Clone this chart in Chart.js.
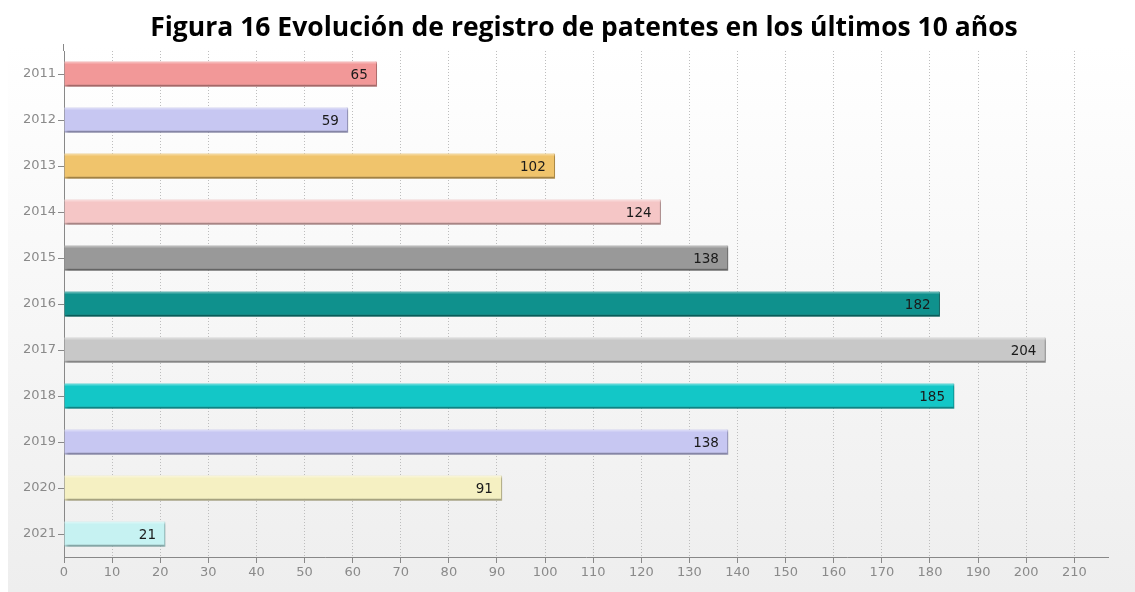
<!DOCTYPE html>
<html>
<head>
<meta charset="utf-8">
<script src="https://cdn.jsdelivr.net/npm/chart.js@4/dist/chart.umd.min.js"></script>
<style>
  html, body { margin: 0; padding: 0; background: #fff; }
  #wrap { width: 1135px; height: 592px; position: relative; }
</style>
</head>
<body>
<div id="wrap"><canvas id="barChart"></canvas></div>
<script>
const titleText = "Figura 16 Evolución de registro de patentes en los últimos 10 años";
const years = ["2011", "2012", "2013", "2014", "2015", "2016", "2017", "2018", "2019", "2020", "2021"];
const patentes = [65, 59, 102, 124, 138, 182, 204, 185, 138, 91, 21];
const barColors = ["#f29898", "#c7c7f2", "#f0c46c", "#f5c6c6", "#999999", "#0f918d",
                   "#c8c8c8", "#13c7c7", "#c7c7f2", "#f5f0c2", "#c6f2f2"];
const edgeColors = ["#dc8a8a", "#b0b0dc", "#d8ac58", "#e0b0b0", "#858585", "#0a7c78",
                    "#b2b2b2", "#0fb0b0", "#b0b0dc", "#dcd6a8", "#aedcdc"];
const xTicks = [0, 10, 20, 30, 40, 50, 60, 70, 80, 90, 100, 110, 120, 130, 140, 150, 160, 170, 180, 190, 200, 210];

// background panel + title
const backdrop = {
  id: "backdrop",
  beforeDraw(chart) {
    const c = chart.ctx;
    const g = c.createLinearGradient(0, 45, 0, chart.height);
    g.addColorStop(0, "#ffffff");
    g.addColorStop(1, "#eeeeee");
    c.save();
    c.fillStyle = g;
    c.fillRect(8, 45, chart.width - 8, chart.height - 45);
    c.restore();
  },
  afterDraw(chart) {
    const c = chart.ctx, a = chart.chartArea;
    c.save();
    c.font = "bold 26.5px 'Open Sans'";
    c.fillStyle = "#000";
    c.textAlign = "center";
    c.textBaseline = "middle";
    c.fillText(titleText, (a.left + a.right) / 2 - 2, 28);
    // y axis line runs a bit above the plot
    c.strokeStyle = "#888";
    c.lineWidth = 1;
    c.beginPath();
    c.moveTo(a.left - 0.5, 44);
    c.lineTo(a.left - 0.5, a.top);
    c.stroke();
    c.restore();
  }
};

// drop shadow under bars, then highlight + value labels
const barShadow = {
  id: "barShadow",
  beforeDatasetsDraw(chart) {
    const c = chart.ctx;
    c.save();
    c.shadowColor = "rgba(0,0,0,0.3)";
    c.shadowOffsetX = 2;
    c.shadowOffsetY = 2;
    c.shadowBlur = 3;
  },
  afterDatasetsDraw(chart) {
    chart.ctx.restore();
    const c = chart.ctx;
    const meta = chart.getDatasetMeta(0);
    c.save();
    c.font = "13.5px 'DejaVu Sans'";
    c.textAlign = "right";
    c.textBaseline = "middle";
    meta.data.forEach((bar, i) => {
      c.fillStyle = "rgba(255,255,255,0.3)";
      c.fillRect(bar.base, bar.y - bar.height / 2, bar.x - bar.base, 2);
      c.fillStyle = "#1a1a1a";
      c.fillText(patentes[i], bar.x - 9, bar.y + 1);
    });
    c.restore();
  }
};

var ctx = document.getElementById("barChart").getContext("2d");
var myChart = new Chart(ctx, {
  type: "bar",
  data: {
    labels: years,
    datasets: [
      {
        data: patentes,
        backgroundColor: barColors,
        borderColor: edgeColors,
        borderWidth: { top: 0, left: 0, right: 1, bottom: 2 },
        borderSkipped: false,
        barThickness: 25,
      },
    ],
  },
  options: {
    indexAxis: "y",
    responsive: true,
    maintainAspectRatio: false,
    animation: false,
    layout: { padding: { top: 51, right: 27, bottom: 0, left: 0 } },
    plugins: {
      legend: { display: false },
      tooltip: { enabled: false },
      title: { display: false },
    },
    scales: {
      x: {
        min: 0,
        max: 217,
        afterBuildTicks(scale) {
          scale.ticks = xTicks.map((v) => ({ value: v }));
        },
        afterFit(scale) { scale.height = 35; },
        ticks: {
          color: "#8a8a8a",
          font: { family: "DejaVu Sans", size: 13 },
          padding: 2,
        },
        grid: {
          color: "#bdbdbd",
          tickColor: "#888",
          tickLength: 6,
          tickBorderDash: [],
        },
        border: { color: "#888", dash: [1, 2] },
      },
      y: {
        afterFit(scale) { scale.width = 64; },
        ticks: {
          color: "#8a8a8a",
          font: { family: "DejaVu Sans", size: 13 },
          padding: 2,
        },
        grid: {
          drawOnChartArea: false,
          tickColor: "#888",
          tickLength: 6,
          offset: false,
        },
        border: { color: "#888" },
      },
    },
  },
  plugins: [backdrop, barShadow],
});
</script>
</body>
</html>
